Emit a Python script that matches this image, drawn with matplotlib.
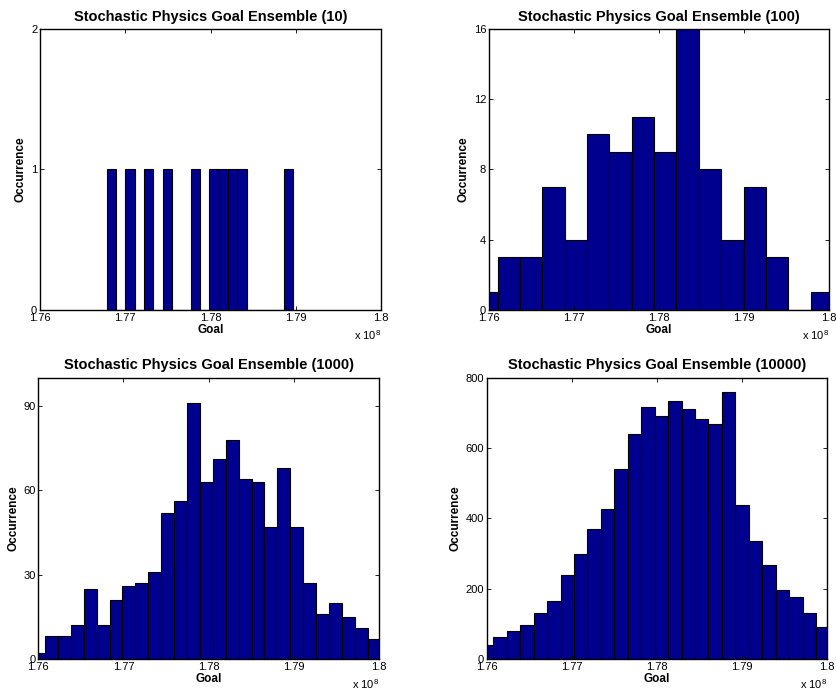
import numpy as np
import matplotlib.pyplot as plt

plt.rcParams["font.family"] = ["Liberation Sans", "DejaVu Sans"]
plt.rcParams["mathtext.fontset"] = "custom"
plt.rcParams["mathtext.rm"] = "Liberation Sans"

BAR_COLOR = "#00008F"

# goal values are in units of 1e8
xlim = (1.76, 1.80)
xticks = [1.76, 1.77, 1.78, 1.79, 1.80]
xticklabels = ["1.76", "1.77", "1.78", "1.79", "1.8"]

ensemble_sizes = [10, 100, 1000, 10000]

# histogram per ensemble: left edge of first bin, bin width, counts
bin_start_10 = 1.76782
bin_width_10 = 0.001095
counts_10 = [1, 0, 1, 0, 1, 0, 1, 0, 0, 1, 0, 1, 1, 1, 1, 0, 0, 0, 0, 1]

bin_start_100 = 1.75839
bin_width_100 = 0.0026277
counts_100 = [1, 3, 3, 7, 4, 10, 9, 11, 9, 16, 8, 4, 7, 3, 0, 1]

bin_start_1000 = 1.759267
bin_width_1000 = 0.001517
counts_1000 = [2, 8, 8, 12, 25, 12, 21, 26, 27, 31, 52, 56, 91, 63, 71,
               78, 64, 63, 47, 68, 47, 27, 16, 20, 15, 11, 7]

bin_start_10000 = 1.759204
bin_width_10000 = 0.00158
counts_10000 = [39, 62, 79, 98, 130, 164, 238, 300, 369, 426, 540, 641, 716,
                691, 735, 710, 684, 668, 758, 438, 337, 268, 195, 176, 132, 90]

y_limits = [2, 16, 100, 800]
y_ticks = [[0, 1, 2], [0, 4, 8, 12, 16], [0, 30, 60, 90],
           [0, 200, 400, 600, 800]]

hists = [
    (bin_start_10, bin_width_10, counts_10),
    (bin_start_100, bin_width_100, counts_100),
    (bin_start_1000, bin_width_1000, counts_1000),
    (bin_start_10000, bin_width_10000, counts_10000),
]

# axes rectangles in figure fractions
positions = [
    [0.0478, 0.554, 0.4074, 0.4043],
    [0.5842, 0.554, 0.4066, 0.4043],
    [0.0458, 0.0518, 0.4067, 0.4047],
    [0.5815, 0.0518, 0.4066, 0.4047],
]

fig = plt.figure(figsize=(8.37, 6.95), dpi=100, facecolor="white")

for n, (start, width, counts), ymax, yt, pos in zip(
        ensemble_sizes, hists, y_limits, y_ticks, positions):
    ax = fig.add_axes(pos)
    left = start + width * np.arange(len(counts))
    ax.bar(left, counts, width=width, align="edge", color=BAR_COLOR,
           edgecolor="black", linewidth=0.8)

    ax.set_xlim(*xlim)
    ax.set_ylim(0, ymax)
    ax.set_xticks(xticks)
    ax.set_xticklabels(xticklabels)
    ax.set_yticks(yt)

    ax.tick_params(direction="in", top=True, right=True, length=3,
                   width=0.6, labelsize=8, pad=2, colors="black")
    for spine in ax.spines.values():
        spine.set_linewidth(1.0)
        spine.set_color("black")

    ax.set_title(f"Stochastic Physics Goal Ensemble ({n})",
                 fontsize=10.5, fontweight="bold", pad=6)
    ax.set_xlabel("Goal", fontsize=8.5, fontweight="bold", labelpad=1)
    ax.set_ylabel("Occurrence", fontsize=8.5, fontweight="bold", labelpad=3)
    ax.text(1.0, -0.09, r"x 10$^{8}$", transform=ax.transAxes,
            ha="right", va="center", fontsize=8)

fig.savefig("out.png", dpi=100, facecolor="white")
